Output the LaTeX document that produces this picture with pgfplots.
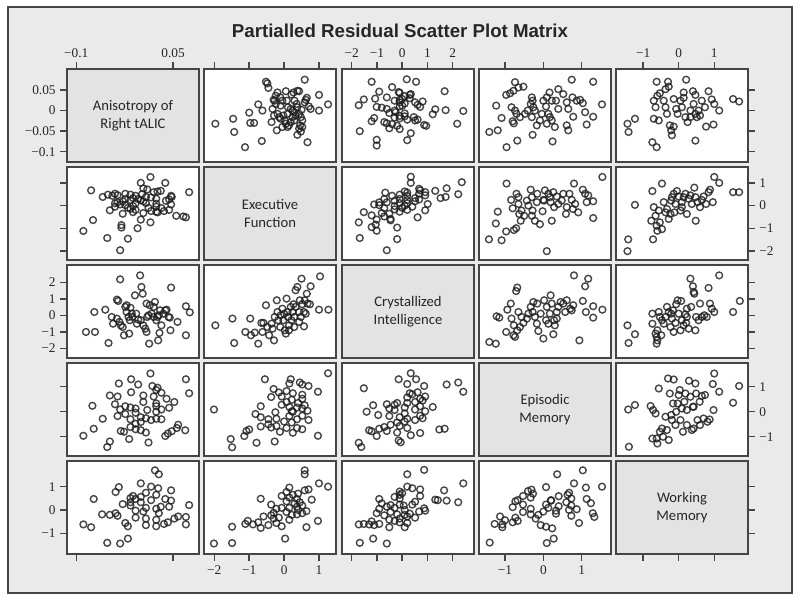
\documentclass[border=0pt]{standalone}
\usepackage{fontspec}
\setmainfont{Liberation Serif}
\newfontfamily\labfont{Carlito}
\newfontfamily\titfont{Liberation Sans}
\usepackage{pgfplots}
\usepackage{pgfplotstable}
\pgfplotsset{compat=1.18}

\definecolor{bgc}{HTML}{EAEAEA}
\definecolor{diagc}{HTML}{E3E3E3}
\definecolor{framec}{HTML}{454545}
\definecolor{ptc}{HTML}{1E1E1E}

\pgfplotstableread{
a e
-0.032 -1.97
-0.020 -1.46
-0.052 -1.43
-0.089 -1.12
-0.005 -1.00
-0.030 -0.97
-0.030 -0.86
0.015 -0.74
0.000 -0.62
-0.074 -0.64
0.070 -0.52
0.066 -0.48
0.055 -0.45
0.004 -0.33
0.026 -0.30
-0.028 -0.36
0.036 -0.24
0.044 -0.19
0.024 -0.27
0.016 -0.24
0.032 -0.11
0.024 -0.05
0.012 -0.10
-0.008 -0.19
-0.016 -0.14
-0.020 -0.10
0.047 0.05
0.024 0.08
0.008 0.11
0.004 0.19
0.000 0.24
-0.004 0.29
-0.012 -0.02
-0.024 0.02
-0.032 0.05
-0.040 0.10
-0.036 0.14
-0.028 0.19
-0.016 0.24
-0.024 0.29
-0.012 0.33
-0.048 -0.21
-0.040 -0.05
0.039 0.21
0.044 0.27
0.048 0.38
0.047 0.43
0.024 0.30
0.016 0.36
0.008 0.38
-0.008 0.43
-0.016 0.48
-0.024 0.52
-0.036 0.46
-0.044 0.43
-0.040 0.52
-0.059 0.38
-0.051 0.48
0.075 0.59
0.026 0.62
0.031 0.65
0.020 0.59
0.010 0.71
0.004 0.76
-0.077 0.67
0.038 1.00
0.000 1.00
0.015 1.26
-0.008 0.10
0.002 0.50
-0.012 -0.29
}\tAE

\pgfplotstableread{
a c
-0.085 -1.01
-0.071 -1.01
-0.072 0.20
-0.055 0.34
-0.050 -1.68
-0.045 -0.10
-0.043 -0.51
-0.037 0.95
-0.035 0.87
-0.032 2.18
-0.037 -0.20
-0.033 -0.40
-0.031 -0.61
-0.028 -0.71
-0.026 -1.21
-0.024 0.51
-0.022 0.20
-0.019 -0.10
-0.018 -1.11
-0.017 -0.30
-0.016 0.46
-0.013 -0.10
-0.009 1.21
-0.007 0.10
-0.006 -0.51
-0.004 -0.26
-0.001 2.42
0.001 1.72
0.003 1.31
0.000 -0.30
0.004 -0.61
0.007 -0.81
0.009 0.71
0.009 -1.01
0.013 -1.72
0.014 0.61
0.017 0.10
0.020 0.51
0.022 0.81
0.024 -0.30
0.026 -0.10
0.027 -1.52
0.029 -1.07
0.030 0.30
0.032 -0.61
0.035 0.10
0.038 0.30
0.040 0.34
0.043 -0.10
0.045 -0.14
0.047 1.68
0.046 -0.91
0.057 -0.40
0.070 0.55
0.076 0.18
0.070 -1.21
0.010 -0.10
0.012 0.00
0.020 -0.10
0.028 0.00
-0.014 0.10
-0.022 0.61
}\tAC

\pgfplotstableread{
a p
-0.052 -1.41
-0.048 -1.19
0.012 -1.23
-0.018 -1.09
-0.089 -0.96
0.069 -0.74
-0.073 -0.68
0.038 -0.97
0.042 -0.87
0.048 -0.78
0.056 -0.65
0.058 -0.52
0.008 -0.83
0.000 -0.74
-0.008 -0.70
-0.026 -0.80
-0.031 -0.77
-0.016 -0.61
-0.008 -0.48
0.000 -0.41
0.032 -0.30
0.024 -0.28
0.016 -0.33
0.008 -0.26
0.000 -0.22
-0.016 -0.30
-0.036 -0.17
-0.059 -0.28
-0.024 -0.09
-0.008 -0.04
0.024 0.00
0.032 0.09
0.044 0.16
0.010 0.07
-0.008 0.13
-0.016 0.17
-0.024 0.22
-0.032 0.09
-0.075 0.24
-0.040 0.30
0.024 0.33
0.004 0.39
0.040 0.52
0.020 0.61
0.004 0.65
0.075 0.74
0.032 0.76
-0.036 0.61
-0.048 0.65
-0.015 0.78
0.024 0.87
0.026 0.96
0.018 1.03
-0.004 1.09
-0.034 1.13
0.070 1.30
-0.015 1.30
0.015 1.53
0.024 0.22
0.052 0.39
}\tAP

\pgfplotstableread{
a w
-0.032 -1.44
-0.052 -1.41
-0.020 -1.23
-0.077 -0.74
-0.089 -0.62
0.070 -0.62
0.070 -0.30
0.058 -0.28
0.075 0.21
0.024 -0.70
0.036 -0.60
0.042 -0.53
0.008 -0.65
-0.020 -0.70
-0.024 -0.56
0.024 -0.42
0.008 -0.37
-0.008 -0.33
-0.036 -0.25
-0.048 -0.21
-0.039 -0.14
-0.060 -0.19
0.028 -0.14
0.004 -0.07
-0.008 -0.03
0.024 0.05
0.031 0.14
-0.016 0.19
-0.028 0.25
-0.016 0.33
0.047 0.40
0.038 0.47
0.016 0.42
-0.008 0.47
-0.016 0.51
0.000 0.56
-0.012 0.60
-0.073 0.47
0.024 0.65
0.008 0.74
-0.039 0.77
0.047 0.84
0.027 0.93
-0.034 0.98
0.016 1.00
0.000 1.14
0.028 1.53
0.022 1.70
0.008 0.09
0.000 0.33
0.044 0.14
0.052 -0.37
}\tAW

\pgfplotstableread{
e c
-1.97 -0.61
-1.48 -0.20
-1.43 -1.68
-1.11 -1.01
-0.97 -0.20
-0.95 -1.21
-0.84 -1.05
-0.74 -1.72
-0.62 -1.01
-0.52 0.61
-0.65 -0.46
-0.59 -0.46
-0.48 -0.71
-0.43 -1.21
-0.36 -0.51
-0.33 -0.81
-0.29 -1.52
-0.27 -0.10
-0.21 0.91
-0.19 0.20
-0.17 -0.30
-0.11 -0.71
-0.10 0.00
-0.05 0.40
-0.02 -0.30
0.02 -0.91
0.05 -1.11
0.07 1.01
0.10 0.20
0.11 -0.10
0.14 -0.61
0.19 0.51
0.21 -0.30
0.24 0.20
0.27 0.67
0.29 -0.10
0.33 0.51
0.33 1.52
0.38 1.72
0.43 0.20
0.45 0.91
0.48 -0.10
0.50 2.22
0.52 0.67
0.57 0.20
0.59 0.91
0.62 0.10
0.67 0.71
0.65 1.31
0.76 1.76
0.57 -0.67
0.29 -0.71
0.14 -0.91
0.74 0.67
1.03 2.36
1.00 0.34
1.27 0.34
0.43 -0.40
0.00 0.10
}\tEC

\pgfplotstableread{
e p
-1.49 -1.42
-0.79 -1.24
-0.27 -1.19
-1.53 -1.09
-1.14 -0.97
0.97 -0.96
0.25 -0.84
-0.12 -0.80
-1.08 -0.77
-1.00 -0.71
0.52 -0.70
0.37 -0.65
0.07 -0.65
-0.37 -0.63
-0.22 -0.57
-0.67 -0.59
-0.45 -0.50
0.22 -0.43
0.00 -0.39
0.70 -0.33
0.37 -0.30
-0.22 -0.28
-0.67 -0.22
0.15 -0.17
0.52 -0.16
-0.82 -0.09
-0.25 -0.02
0.22 0.02
0.67 0.04
-2.01 0.09
0.52 0.13
0.37 0.17
0.15 0.19
-0.67 0.22
0.59 0.26
-0.07 0.28
0.40 0.35
0.07 0.39
0.22 0.48
0.52 0.52
-0.37 0.59
-0.07 0.61
0.52 0.68
0.25 0.74
0.97 0.80
-0.15 0.77
-0.30 0.91
0.70 1.03
0.52 1.09
0.15 1.13
0.45 1.17
0.19 1.30
-0.55 1.30
1.26 1.54
0.25 0.00
-0.45 -0.30
0.07 0.83
}\tEP

\pgfplotstableread{
e w
-1.49 -1.42
-2.01 -1.44
0.03 -1.23
0.64 -0.74
0.97 -0.47
-1.49 -0.72
-0.67 -0.77
-0.07 -0.70
-0.45 -0.65
-0.89 -0.62
-1.11 -0.60
-0.22 -0.56
-0.74 -0.53
-1.04 -0.47
0.15 -0.42
-0.30 -0.37
-0.15 -0.33
-0.59 -0.28
-0.37 -0.23
0.22 -0.21
0.37 -0.19
0.52 -0.14
0.07 -0.09
0.64 -0.05
0.40 0.00
-0.22 0.05
0.15 0.09
0.37 0.14
0.52 0.19
-0.37 0.23
0.30 0.28
0.45 0.33
0.07 0.37
0.79 0.44
0.37 0.47
-0.67 0.48
0.15 0.53
-0.07 0.60
0.25 0.65
0.40 0.70
0.07 0.77
0.59 0.84
0.70 0.88
0.15 0.96
1.26 1.00
1.00 1.14
0.59 1.53
0.59 1.70
-0.07 0.09
-0.30 -0.12
}\tEW

\pgfplotstableread{
c p
-1.62 -1.41
-1.72 -1.24
-0.06 -1.22
-0.14 -1.15
-1.01 -0.97
0.34 -0.94
0.71 -0.85
-0.20 -0.83
-1.21 -0.78
-1.31 -0.74
-0.61 -0.77
1.47 -0.71
1.68 -0.68
-0.91 -0.68
-0.71 -0.61
-0.10 -0.57
-0.46 -0.52
-0.20 -0.43
0.10 -0.39
0.51 -0.33
0.81 -0.26
0.20 -0.28
-0.10 -0.22
-0.51 -0.17
0.71 -0.16
-0.95 -0.13
0.10 -0.07
-1.41 0.00
0.91 0.02
-0.30 0.07
0.51 0.09
-0.51 0.13
0.10 0.17
1.21 0.19
0.71 0.22
-1.15 0.26
-0.30 0.28
-0.61 0.30
0.20 0.35
0.51 0.39
0.81 0.45
0.71 0.52
0.20 0.57
0.91 0.61
0.40 0.70
0.30 0.74
0.61 0.78
2.42 0.80
-1.52 0.94
0.87 1.03
1.76 1.09
0.20 1.11
2.22 1.17
-0.14 1.30
0.55 1.30
0.34 1.54
0.20 -0.65
-0.20 0.35
}\tCP

\pgfplotstableread{
c w
-0.61 -1.44
-1.68 -1.41
-1.15 -1.23
-0.51 -0.74
0.10 -0.74
-1.11 -0.65
-1.31 -0.62
-1.72 -0.62
-1.52 -0.60
-0.91 -0.60
0.20 -0.56
-0.10 -0.53
-1.21 -0.49
-0.30 -0.47
-0.51 -0.42
-0.10 -0.37
0.51 -0.33
0.20 -0.28
-0.71 -0.23
-0.20 -0.19
0.30 -0.16
-1.01 -0.14
-0.46 -0.09
0.67 -0.07
0.91 -0.03
0.10 0.00
-0.91 0.05
0.87 0.07
-0.30 0.09
-0.61 0.14
0.06 0.19
-0.46 0.21
0.40 0.23
-0.81 0.28
2.22 0.33
0.51 0.35
1.76 0.40
1.41 0.42
1.31 0.44
-0.91 0.47
-0.10 0.49
-0.30 0.56
0.71 0.60
-0.10 0.65
0.00 0.72
-0.10 0.79
1.66 0.84
0.71 0.88
0.40 0.93
0.20 1.00
2.42 1.14
0.20 1.53
0.87 1.72
0.10 -0.21
-0.10 0.23
}\tCW

\pgfplotstableread{
p w
0.09 -1.42
0.27 -1.23
-1.40 -1.40
0.23 -0.79
0.07 -0.72
-0.07 -0.65
-1.07 -0.62
-1.07 -0.74
-1.27 -0.60
0.93 -0.56
-0.80 -0.53
-0.67 -0.47
-1.00 -0.44
-0.20 -0.37
-0.73 -0.33
1.33 -0.30
-1.13 -0.28
0.73 -0.25
-0.13 -0.21
-0.33 -0.19
0.33 -0.16
1.29 -0.14
-0.53 -0.09
0.00 -0.07
0.33 -0.03
0.67 0.00
0.87 0.03
-0.33 0.05
0.13 0.09
-0.80 0.12
0.40 0.16
0.73 0.19
-0.53 0.23
1.24 0.29
0.60 0.33
-0.73 0.37
0.20 0.40
-0.67 0.42
1.13 0.47
0.73 0.49
-0.33 0.53
0.40 0.59
-0.53 0.60
0.63 0.65
-0.27 0.70
0.67 0.74
-0.40 0.81
-0.31 0.87
1.11 0.96
1.53 1.00
0.07 0.98
0.80 1.14
0.36 1.53
1.03 1.70
0.20 0.42
0.07 0.23
}\tPW

\pgfplotsset{
  panel/.style={scale only axis, width=99pt, height=69.75pt, anchor=north west,
    axis line style={draw=framec, line width=1.35pt},
    every tick/.style={draw=framec, line width=1.1pt},
    tick align=outside, major tick length=5pt,
    xtick=\empty, ytick=\empty,
    tick label style={font=\fontsize{10}{11}\selectfont, text=black!85},
    axis background/.style={fill=white}},
  c1/.style={xmin=-0.1144, xmax=0.0903},
  c2/.style={xmin=-2.295, xmax=1.487},
  c3/.style={xmin=-2.384, xmax=2.844},
  c4/.style={xmin=-1.679, xmax=1.765},
  c5/.style={xmin=-1.763, xmax=1.950},
  r1/.style={ymin=-0.125, ymax=0.101},
  r2/.style={ymin=-2.40, ymax=1.70},
  r3/.style={ymin=-2.59, ymax=3.05},
  r4/.style={ymin=-1.77, ymax=1.95},
  r5/.style={ymin=-1.89, ymax=2.10},
  xt1/.style={xtick={-0.1,0.05}}, xl1/.style={xticklabels={−0.1,0.05}},
  xt2/.style={xtick={-2,-1,0,1}}, xl2/.style={xticklabels={−2,−1,0,1}},
  xt3/.style={xtick={-2,-1,0,1,2}}, xl3/.style={xticklabels={−2,−1,0,1,2}},
  xt4/.style={xtick={-1,0,1}}, xl4/.style={xticklabels={−1,0,1}},
  xt5/.style={xtick={-1,0,1}}, xl5/.style={xticklabels={−1,0,1}},
  yt1/.style={ytick={-0.1,-0.05,0,0.05}}, yl1/.style={yticklabels={−0.1,−0.05,0,0.05}},
  yt2/.style={ytick={-2,-1,0,1}}, yl2/.style={yticklabels={−2,−1,0,1}},
  yt3/.style={ytick={-2,-1,0,1,2}}, yl3/.style={yticklabels={−2,−1,0,1,2}},
  yt4/.style={ytick={-1,0,1}}, yl4/.style={yticklabels={−1,0,1}},
  yt5/.style={ytick={-1,0,1}}, yl5/.style={yticklabels={−1,0,1}},
  top/.style={xtick pos=right, xticklabel pos=right},
  bot/.style={xtick pos=left, xticklabel pos=left},
  lft/.style={ytick pos=left, yticklabel pos=left},
  rgt/.style={ytick pos=right, yticklabel pos=right},
  nolx/.style={xticklabels={{},{},{},{},{}}},
  noly/.style={yticklabels={{},{},{},{},{}}},
  diag/.style={axis background/.style={fill=diagc}},
  pts/.style={only marks, mark=o, mark size=2.55pt,
    mark options={draw=ptc, draw opacity=0.82, line width=1.05pt}},
}
\tikzset{lab/.style={align=center, font=\labfont\fontsize{11}{13.5}\selectfont, text=black!85}}

\begin{document}
\begin{tikzpicture}
\path[use as bounding box] (0,0) rectangle (600pt,-452.25pt);
\draw[framec, line width=1.4pt, fill=bgc] (6pt,-5.25pt) rectangle (594pt,-444.75pt);
\node[anchor=base, font=\titfont\bfseries\fontsize{14}{16}\selectfont, text=black!85] at (300pt,-28pt) {Partialled Residual Scatter Plot Matrix};

% Row 1
\begin{axis}[panel, at={(50.25pt,-51.75pt)}, c1, r1, xt1, xl1, top, yt1, yl1, lft, diag]
\node[lab] at (rel axis cs:0.5,0.5) {Anisotropy of\\Right tALIC};
\end{axis}
\begin{axis}[panel, at={(153pt,-51.75pt)}, c2, r1, xt2, top, nolx]
\addplot[pts] table[x=e,y=a] {\tAE};
\end{axis}
\begin{axis}[panel, at={(256.5pt,-51.75pt)}, c3, r1, xt3, xl3, top]
\addplot[pts] table[x=c,y=a] {\tAC};
\end{axis}
\begin{axis}[panel, at={(359.25pt,-51.75pt)}, c4, r1, xt4, top, nolx]
\addplot[pts] table[x=p,y=a] {\tAP};
\end{axis}
\begin{axis}[panel, at={(462pt,-51.75pt)}, c5, r1, xt5, xl5, top, yt1, rgt, noly]
\addplot[pts] table[x=w,y=a] {\tAW};
\end{axis}

% Row 2
\begin{axis}[panel, at={(50.25pt,-125.25pt)}, c1, r2, yt2, lft, noly]
\addplot[pts] table[x=a,y=e] {\tAE};
\end{axis}
\begin{axis}[panel, at={(153pt,-125.25pt)}, c2, r2, diag]
\node[lab] at (rel axis cs:0.5,0.5) {Executive\\Function};
\end{axis}
\begin{axis}[panel, at={(256.5pt,-125.25pt)}, c3, r2]
\addplot[pts] table[x=c,y=e] {\tEC};
\end{axis}
\begin{axis}[panel, at={(359.25pt,-125.25pt)}, c4, r2]
\addplot[pts] table[x=p,y=e] {\tEP};
\end{axis}
\begin{axis}[panel, at={(462pt,-125.25pt)}, c5, r2, yt2, yl2, rgt]
\addplot[pts] table[x=w,y=e] {\tEW};
\end{axis}

% Row 3
\begin{axis}[panel, at={(50.25pt,-198.75pt)}, c1, r3, yt3, yl3, lft]
\addplot[pts] table[x=a,y=c] {\tAC};
\end{axis}
\begin{axis}[panel, at={(153pt,-198.75pt)}, c2, r3]
\addplot[pts] table[x=e,y=c] {\tEC};
\end{axis}
\begin{axis}[panel, at={(256.5pt,-198.75pt)}, c3, r3, diag]
\node[lab] at (rel axis cs:0.5,0.5) {Crystallized\\Intelligence};
\end{axis}
\begin{axis}[panel, at={(359.25pt,-198.75pt)}, c4, r3]
\addplot[pts] table[x=p,y=c] {\tCP};
\end{axis}
\begin{axis}[panel, at={(462pt,-198.75pt)}, c5, r3, yt3, rgt, noly]
\addplot[pts] table[x=w,y=c] {\tCW};
\end{axis}

% Row 4
\begin{axis}[panel, at={(50.25pt,-272.25pt)}, c1, r4, yt4, lft, noly]
\addplot[pts] table[x=a,y=p] {\tAP};
\end{axis}
\begin{axis}[panel, at={(153pt,-272.25pt)}, c2, r4]
\addplot[pts] table[x=e,y=p] {\tEP};
\end{axis}
\begin{axis}[panel, at={(256.5pt,-272.25pt)}, c3, r4]
\addplot[pts] table[x=c,y=p] {\tCP};
\end{axis}
\begin{axis}[panel, at={(359.25pt,-272.25pt)}, c4, r4, diag]
\node[lab] at (rel axis cs:0.5,0.5) {Episodic\\Memory};
\end{axis}
\begin{axis}[panel, at={(462pt,-272.25pt)}, c5, r4, yt4, yl4, rgt]
\addplot[pts] table[x=w,y=p] {\tPW};
\end{axis}

% Row 5
\begin{axis}[panel, at={(50.25pt,-345.75pt)}, c1, r5, xt1, bot, nolx, yt5, yl5, lft]
\addplot[pts] table[x=a,y=w] {\tAW};
\end{axis}
\begin{axis}[panel, at={(153pt,-345.75pt)}, c2, r5, xt2, xl2, bot]
\addplot[pts] table[x=e,y=w] {\tEW};
\end{axis}
\begin{axis}[panel, at={(256.5pt,-345.75pt)}, c3, r5, xt3, bot, nolx]
\addplot[pts] table[x=c,y=w] {\tCW};
\end{axis}
\begin{axis}[panel, at={(359.25pt,-345.75pt)}, c4, r5, xt4, xl4, bot]
\addplot[pts] table[x=p,y=w] {\tPW};
\end{axis}
\begin{axis}[panel, at={(462pt,-345.75pt)}, c5, r5, xt5, bot, nolx, yt5, rgt, noly, diag]
\node[lab] at (rel axis cs:0.5,0.5) {Working\\Memory};
\end{axis}
\end{tikzpicture}
\end{document}
